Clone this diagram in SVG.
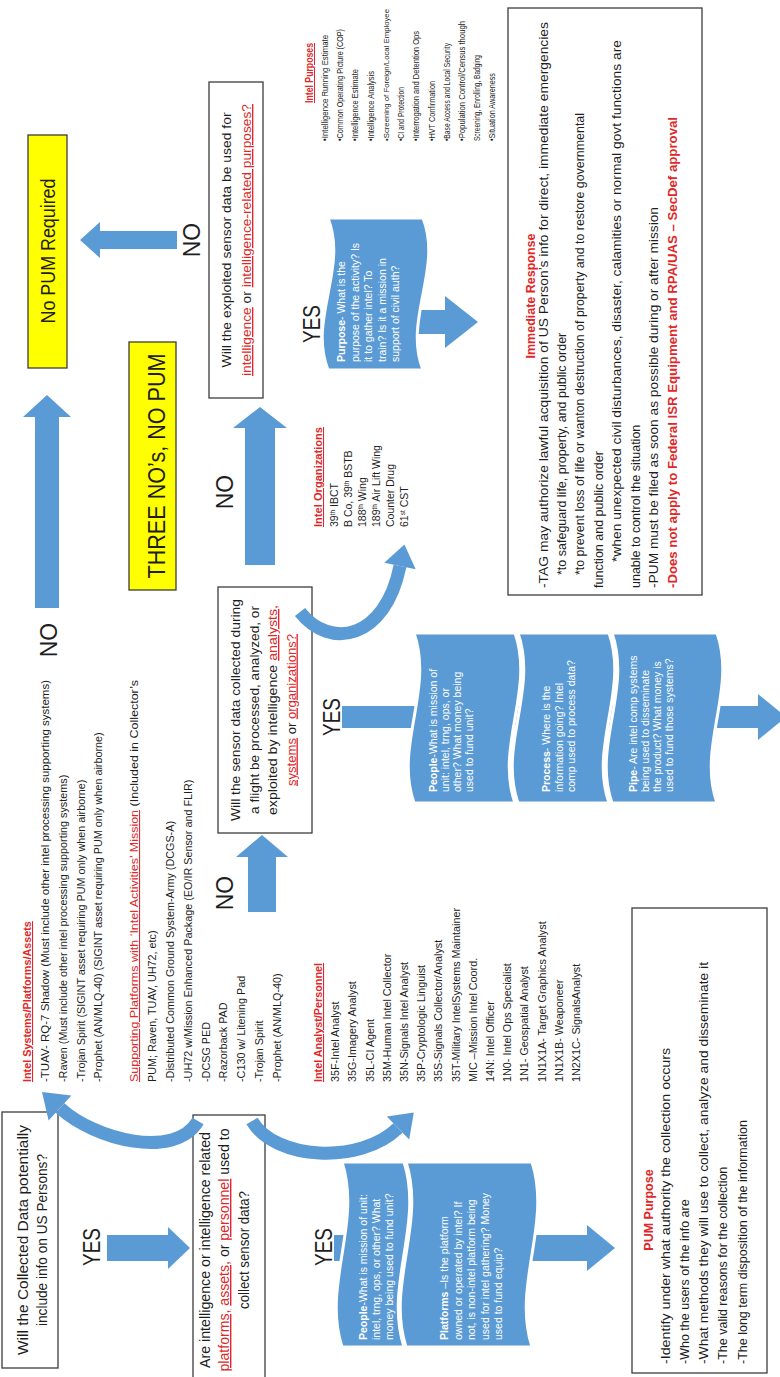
<svg xmlns="http://www.w3.org/2000/svg" width="780" height="1377" viewBox="0 0 780 1377">
<style>
text{font-family:"Liberation Sans",Arial,sans-serif;fill:#1e1e1e}
.box{fill:none;stroke:#3c3c3c;stroke-width:1.3}
.ybox{fill:#ffff00;stroke:#3c3c3c;stroke-width:1.3}
.arr{fill:#5b9bd5}
.arc{fill:none;stroke:#5b9bd5;stroke-width:13}
.wave{fill:#5b9bd5;stroke:#fff;stroke-width:3}
.lbl{font-size:23px}
.r{fill:#e02828}
.u{text-decoration:underline}
.b{font-weight:bold}
.w{fill:#fff}
.lst{font-size:10.8px}
.wt{font-size:10.5px;fill:#fff}
</style>
<rect width="780" height="1377" fill="#fff"/>

<g id="connectors">
  <polygon class="arr" points="80,240 100,222 100,231 177,231 177,249 100,249 100,258"/>
  <polygon class="arr" points="47,395 71,417 59,417 59,608 35,608 35,417 23,417"/>
  <polygon class="arr" points="260,407 287,428 275,428 275,565 245,565 245,428 233,428"/>
  <polygon class="arr" points="262,835 288,857 276,857 276,912 248,912 248,857 236,857"/>
  <polygon class="arr" points="107,1235 168,1235 168,1227 190,1248 168,1269 168,1261 107,1261"/>
  <polygon class="arr" points="334,1235 587,1235 587,1225 615,1248 587,1271 587,1261 334,1261"/>
  <polygon class="arr" points="342,706 758,706 758,694 786,717 758,740 758,728 342,728"/>
  <polygon class="arr" points="326,310 445,310 445,296 478,322 445,348 445,334 326,334"/>
</g>

<g id="yes-no-labels" class="lbl">
  <text transform="translate(0 240) rotate(-90)" text-anchor="middle" x="0" y="200">NO</text>
  <text transform="translate(0 640) rotate(-90)" text-anchor="middle" x="0" y="57">NO</text>
  <text transform="translate(0 492) rotate(-90)" text-anchor="middle" x="0" y="233">NO</text>
  <text transform="translate(0 893) rotate(-90)" text-anchor="middle" x="0" y="233">NO</text>
  <text transform="translate(0 1247) rotate(-90)" text-anchor="middle" x="0" y="100" textLength="38" lengthAdjust="spacingAndGlyphs">YES</text>
  <text transform="translate(0 1247) rotate(-90)" text-anchor="middle" x="0" y="332" textLength="38" lengthAdjust="spacingAndGlyphs">YES</text>
  <text transform="translate(0 717) rotate(-90)" text-anchor="middle" x="0" y="340" textLength="38" lengthAdjust="spacingAndGlyphs">YES</text>
  <text transform="translate(0 324) rotate(-90)" text-anchor="middle" x="0" y="320" textLength="38" lengthAdjust="spacingAndGlyphs">YES</text>
</g>

<g id="node-nopum">
  <rect class="ybox" x="28" y="135" width="39" height="233"/>
  <text transform="translate(0 251) rotate(-90)" text-anchor="middle" x="0" y="55" font-size="20" textLength="145" lengthAdjust="spacingAndGlyphs">No PUM Required</text>
</g>

<g id="node-threeno">
  <rect class="ybox" x="129" y="342" width="47" height="248"/>
  <text transform="translate(0 466) rotate(-90)" text-anchor="middle" x="0" y="165" font-size="24" textLength="225" lengthAdjust="spacingAndGlyphs">THREE NO’s, NO PUM</text>
</g>

<g id="node-q1">
  <rect class="box" x="2" y="1112" width="56" height="256"/>
  <g transform="translate(0 1240) rotate(-90)" font-size="14">
    <text text-anchor="middle" x="0" y="28" textLength="230" lengthAdjust="spacingAndGlyphs">Will the Collected Data potentially</text>
    <text text-anchor="middle" x="0" y="47" textLength="172" lengthAdjust="spacingAndGlyphs">include info on US Persons?</text>
  </g>
</g>

<g id="node-q2">
  <rect class="box" x="193" y="1115" width="72" height="275"/>
  <g transform="translate(0 1250) rotate(-90)" font-size="14">
    <text text-anchor="middle" x="0" y="210" textLength="236" lengthAdjust="spacingAndGlyphs">Are intelligence or intelligence related</text>
    <text text-anchor="middle" x="0" y="229" textLength="243" lengthAdjust="spacingAndGlyphs"><tspan class="r u">platforms,</tspan> <tspan class="r u">assets,</tspan> or <tspan class="r u">personnel</tspan> used to</text>
    <text text-anchor="middle" x="0" y="249" textLength="118" lengthAdjust="spacingAndGlyphs">collect sensor data?</text>
  </g>
</g>

<g id="node-q3">
  <rect class="box" x="218" y="587" width="94" height="246"/>
  <g transform="translate(0 710) rotate(-90)" font-size="13.5">
    <text text-anchor="middle" x="0" y="240" textLength="222" lengthAdjust="spacingAndGlyphs">Will the sensor data collected during</text>
    <text text-anchor="middle" x="0" y="258.5" textLength="208" lengthAdjust="spacingAndGlyphs">a flight be processed, analyzed, or</text>
    <text text-anchor="middle" x="0" y="277" textLength="210" lengthAdjust="spacingAndGlyphs">exploited by intelligence <tspan class="r u">analysts,</tspan></text>
    <text text-anchor="middle" x="0" y="295.5" textLength="152" lengthAdjust="spacingAndGlyphs"><tspan class="r u">systems</tspan> or <tspan class="r u">organizations?</tspan></text>
  </g>
</g>

<g id="node-q4">
  <rect class="box" x="209" y="82" width="54" height="316"/>
  <g transform="translate(0 240) rotate(-90)" font-size="13.5">
    <text text-anchor="middle" x="0" y="231" textLength="255" lengthAdjust="spacingAndGlyphs">Will the exploited sensor data be used for</text>
    <text text-anchor="middle" x="0" y="251" textLength="272" lengthAdjust="spacingAndGlyphs"><tspan class="r u">intelligence</tspan> or <tspan class="r u">intelligence-related purposes?</tspan></text>
  </g>
</g>

<g id="node-intel-systems" class="lst">
  <g transform="translate(0 1082) rotate(-90)">
    <text x="0" y="31" class="r u b">Intel Systems/Platforms/Assets</text>
    <text x="0" y="49" textLength="402" lengthAdjust="spacingAndGlyphs">-TUAV- RQ-7 Shadow (Must include other intel processing supporting systems)</text>
    <text x="0" y="67">-Raven (Must include other intel processing supporting systems)</text>
    <text x="0" y="85">-Trojan Spirit (SIGINT asset requiring PUM only when airborne)</text>
    <text x="0" y="102">-Prophet (AN/MLQ-40) (SIGINT asset requiring PUM only when airborne)</text>
    <text x="0" y="138" textLength="402" lengthAdjust="spacingAndGlyphs"><tspan class="r u">Supporting  Platforms with ‘Intel Activities’ Mission</tspan> (Included in Collector’s</text>
    <text x="0" y="156">PUM; Raven, TUAV, UH72, etc)</text>
    <text x="0" y="174">-Distributed Common Ground System-Army (DCGS-A)</text>
    <text x="0" y="192">-UH72 w/Mission Enhanced Package (EO/IR Sensor and FLIR)</text>
    <text x="0" y="210">-DCSG PED</text>
    <text x="0" y="227">-Razorback PAD</text>
    <text x="0" y="245">-C130 w/ Litening Pad</text>
    <text x="0" y="263">-Trojan Spirit</text>
    <text x="0" y="281">-Prophet (AN/MLQ-40)</text>
  </g>
</g>

<g id="node-intel-analysts" class="lst">
  <g transform="translate(0 1082) rotate(-90)">
    <text x="0" y="322" class="r u b">Intel Analyst/Personnel</text>
    <text x="0" y="339">35F-Intel Analyst</text>
    <text x="0" y="356">35G-Imagery Analyst</text>
    <text x="0" y="374">35L-CI Agent</text>
    <text x="0" y="391">35M-Human Intel Collector</text>
    <text x="0" y="408">35N-Signals Intel Analyst</text>
    <text x="0" y="425">35P-Cryptologic Linguist</text>
    <text x="0" y="442">35S-Signals Collector/Analyst</text>
    <text x="0" y="460">35T-Military IntelSystems Maintainer</text>
    <text x="0" y="477">MIC –Mission Intel Coord.</text>
    <text x="0" y="494">14N: Intel Officer</text>
    <text x="0" y="511">1N0- Intel Ops Specialist</text>
    <text x="0" y="528">1N1- Geospatial Analyst</text>
    <text x="0" y="546">1N1X1A- Target Graphics Analyst</text>
    <text x="0" y="563">1N1X1B- Weaponeer</text>
    <text x="0" y="580">1N2X1C- SignalsAnalyst</text>
  </g>
</g>

<g id="node-intel-orgs" font-size="10.5">
  <g transform="translate(0 527) rotate(-90)">
    <text x="0" y="322" class="r u b" textLength="100" lengthAdjust="spacingAndGlyphs">Intel Organizations</text>
    <text x="0" y="338">39<tspan baseline-shift="super" font-size="6.5">th</tspan> IBCT</text>
    <text x="0" y="352">B Co, 39<tspan baseline-shift="super" font-size="6.5">th</tspan> BSTB</text>
    <text x="0" y="366">188<tspan baseline-shift="super" font-size="6.5">th</tspan> Wing</text>
    <text x="0" y="380">189<tspan baseline-shift="super" font-size="6.5">th</tspan> Air Lift Wing</text>
    <text x="0" y="394">Counter Drug</text>
    <text x="0" y="408">61<tspan baseline-shift="super" font-size="6.5">st</tspan> CST</text>
  </g>
</g>

<g id="node-intel-purposes" font-size="9">
  <g transform="translate(0 141) rotate(-90)">
    <text x="38" y="313" class="r u b" font-size="10" textLength="60" lengthAdjust="spacingAndGlyphs">Intel Purposes</text>
    <text x="0" y="328" textLength="106" lengthAdjust="spacingAndGlyphs">•Intelligence Running Estimate</text>
    <text x="0" y="343" textLength="112" lengthAdjust="spacingAndGlyphs">•Common Operating Picture (COP)</text>
    <text x="0" y="358" textLength="72" lengthAdjust="spacingAndGlyphs">•Intelligence Estimate</text>
    <text x="0" y="374" textLength="70" lengthAdjust="spacingAndGlyphs">•Intelligence Analysis</text>
    <text x="0" y="389" font-size="8.1" textLength="132" lengthAdjust="spacingAndGlyphs">•Screening of Foreign/Local Employee</text>
    <text x="0" y="404" textLength="54" lengthAdjust="spacingAndGlyphs">•CI and Protection</text>
    <text x="0" y="419" textLength="110" lengthAdjust="spacingAndGlyphs">•Interrogation and Detention Ops</text>
    <text x="0" y="435" textLength="60" lengthAdjust="spacingAndGlyphs">•HVT Confirmation</text>
    <text x="0" y="450" textLength="98" lengthAdjust="spacingAndGlyphs">•Base Access and Local Security</text>
    <text x="0" y="465" textLength="120" lengthAdjust="spacingAndGlyphs">•Population Control/Census though</text>
    <text x="0" y="480" textLength="86" lengthAdjust="spacingAndGlyphs">Screening, Enrolling, Badging</text>
    <text x="0" y="495" textLength="68" lengthAdjust="spacingAndGlyphs">•Situation Awareness</text>
  </g>
</g>

<g id="node-immediate">
  <rect class="box" x="508" y="8" width="194" height="587"/>
  <text transform="translate(0 296) rotate(-90)" text-anchor="middle" x="0" y="535" class="r b" font-size="12.5">Immediate Response</text>
  <g transform="translate(0 588) rotate(-90)" font-size="12.5">
    <text x="0" y="548" textLength="566" lengthAdjust="spacingAndGlyphs">-TAG may authorize lawful acquisition of US Person’s info for direct, immediate emergencies</text>
    <text x="13" y="566">*to safeguard life, property, and public order</text>
    <text x="13" y="584" textLength="462" lengthAdjust="spacingAndGlyphs">*to prevent loss of life or wanton destruction of property and to restore governmental</text>
    <text x="0" y="603">function and public order</text>
    <text x="26" y="621" textLength="522" lengthAdjust="spacingAndGlyphs">*when unexpected civil disturbances, disaster, calamities or normal govt functions are</text>
    <text x="0" y="640">unable to control the situation</text>
    <text x="0" y="658" textLength="381" lengthAdjust="spacingAndGlyphs">-PUM must be filed as soon  as possible  during or after mission</text>
    <text x="0" y="677" class="r b" textLength="471" lengthAdjust="spacingAndGlyphs">-Does not apply to Federal ISR Equipment and RPA/UAS – SecDef approval</text>
  </g>
</g>

<g id="node-pum-purpose">
  <rect class="box" x="632" y="908" width="135" height="465"/>
  <text transform="translate(0 1210) rotate(-90)" text-anchor="middle" x="0" y="653" class="r b" font-size="12.5">PUM Purpose</text>
  <g transform="translate(0 1364) rotate(-90)" font-size="12.5">
    <text x="0" y="670" textLength="316" lengthAdjust="spacingAndGlyphs">-Identify under what authority the collection occurs</text>
    <text x="0" y="689">-Who the users of the info are</text>
    <text x="0" y="708" textLength="402" lengthAdjust="spacingAndGlyphs">-What methods they will use to collect, analyze and disseminate it</text>
    <text x="0" y="727">-The valid reasons for the collection</text>
    <text x="0" y="747">-The long term disposition  of the information</text>
  </g>
</g>

<g id="node-purpose-wave">
  <path class="wave" d="M328 370 C308 319.3 348 268.7 328 218 L423 218 C443 268.7 403 319.3 423 370 Z"/>
  <g transform="translate(0 362) rotate(-90)" class="wt">
    <text x="0" y="345" class="w"><tspan class="b">Purpose</tspan>- What is the</text>
    <text x="0" y="358.5" class="w">purpose of the activity? Is</text>
    <text x="0" y="372" class="w">it to gather intel? To</text>
    <text x="0" y="385.5" class="w">train? Is it a mission in</text>
    <text x="0" y="399" class="w">support of civil auth?</text>
  </g>
</g>

<g id="node-people-1">
  <path class="wave" d="M342 1347 C322 1285.3 362 1223.7 342 1162 L404 1162 C424 1223.7 384 1285.3 404 1347 Z"/>
  <g transform="translate(0 1340) rotate(-90)" class="wt">
    <text x="0" y="367" class="w"><tspan class="b">People</tspan>-What is mission of unit:</text>
    <text x="0" y="380" class="w">intel, trng, ops, or other? What</text>
    <text x="0" y="393" class="w">money being used to fund unit?</text>
  </g>
</g>

<g id="node-platforms">
  <path class="wave" d="M406 1347 C386 1285.3 426 1223.7 406 1162 L532 1162 C552 1223.7 512 1285.3 532 1347 Z"/>
  <g transform="translate(0 1340) rotate(-90)" class="wt">
    <text x="0" y="448" class="w"><tspan class="b">Platforms</tspan> –Is the platform</text>
    <text x="0" y="461.5" class="w">owned or operated by intel? If</text>
    <text x="0" y="475" class="w">not, is non-intel platform being</text>
    <text x="0" y="488.5" class="w">used for intel gathering? Money</text>
    <text x="0" y="502" class="w">used to fund equip?</text>
  </g>
</g>

<g id="node-people-2">
  <path class="wave" d="M414 803 C394 746.3 434 689.7 414 633 L515 633 C535 689.7 495 746.3 515 803 Z"/>
  <g transform="translate(0 792) rotate(-90)" class="wt">
    <text x="0" y="437" class="w"><tspan class="b">People</tspan>-What is mission of</text>
    <text x="0" y="449" class="w">unit: intel, trng, ops, or</text>
    <text x="0" y="461" class="w">other? What money being</text>
    <text x="0" y="473" class="w">used to fund unit?</text>
  </g>
</g>

<g id="node-process">
  <path class="wave" d="M518 803 C498 746.3 538 689.7 518 633 L609 633 C629 689.7 589 746.3 609 803 Z"/>
  <g transform="translate(0 792) rotate(-90)" class="wt">
    <text x="0" y="550" class="w"><tspan class="b">Process</tspan>- Where is the</text>
    <text x="0" y="562.5" class="w">information going? Intel</text>
    <text x="0" y="575" class="w">comp used to process data?</text>
  </g>
</g>

<g id="node-pipe">
  <path class="wave" d="M612 803 C592 746.3 632 689.7 612 633 L717 633 C737 689.7 697 746.3 717 803 Z"/>
  <g transform="translate(0 792) rotate(-90)" class="wt">
    <text x="0" y="637" class="w"><tspan class="b">Pipe</tspan>- Are intel comp systems</text>
    <text x="0" y="649" class="w">being used to disseminate</text>
    <text x="0" y="661" class="w">the product? What money is</text>
    <text x="0" y="673" class="w">used to fund those systems?</text>
  </g>
</g>

<g id="curved-connectors">
  <path class="arc" d="M198 1121 C175 1160 95 1140 60 1108"/>
  <polygon class="arr" points="42,1092 71.4,1095.4 48.6,1120.6"/>
  <path class="arc" d="M252 1121 C275 1160 360 1165 398 1128"/>
  <polygon class="arr" points="413.8,1112.6 409.2,1139.5 386.8,1116.5"/>
  <path class="arc" d="M300 612 C330 650 385 640 400 566"/>
  <polygon class="arr" points="404.4,544.4 415.7,569.2 384.3,562.8"/>
</g>
</svg>
